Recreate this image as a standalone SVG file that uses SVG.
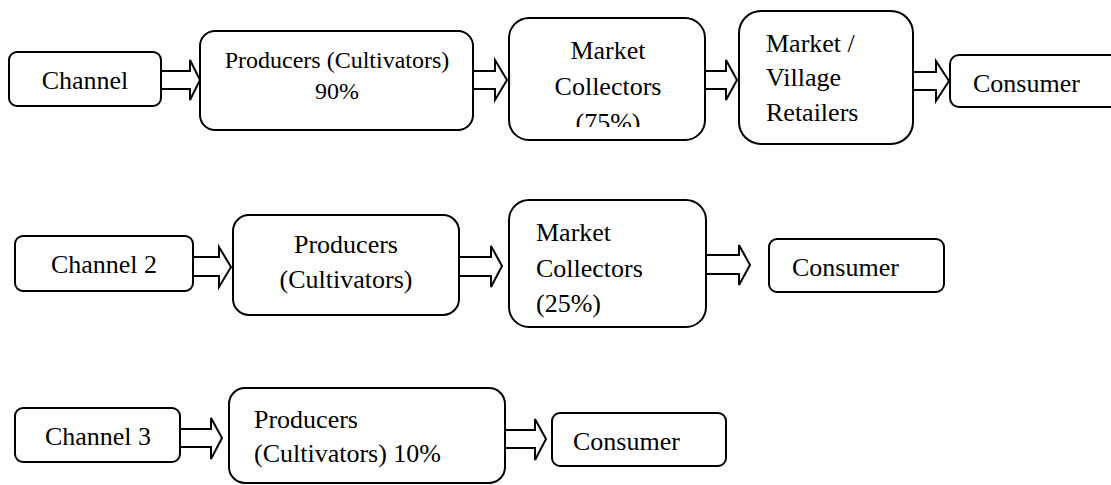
<svg xmlns="http://www.w3.org/2000/svg" width="1111" height="485" viewBox="0 0 1111 485">
<style>
.box{fill:#fff;stroke:#000;stroke-width:2}
.arr{fill:#fff;stroke:#000;stroke-width:2;stroke-linejoin:miter}
.t{font-family:'Liberation Serif','DejaVu Serif',serif;font-size:26px;fill:#000}
.c{text-anchor:middle}
.s{font-size:24px}
</style>
<defs>
<clipPath id="clip75"><rect x="509" y="0" width="196" height="127"/></clipPath>
</defs>
<rect width="1111" height="485" fill="#fff"/>
<g id="connectors">
<polygon class="arr" points="161,71 190,71 190,60 200,80 190,100 190,89 161,89"/>
<polygon class="arr" points="473,71 495,71 495,60 507,80 495,100 495,89 473,89"/>
<polygon class="arr" points="705,71 726,71 726,60 737,80 726,100 726,89 705,89"/>
<polygon class="arr" points="913,72 936,72 936,61 949,81 936,101 936,90 913,90"/>
<polygon class="arr" points="193,257 219,257 219,247 231,267 219,287 219,276 193,276"/>
<polygon class="arr" points="459,257 491,257 491,246 502,266 491,287 491,276 459,276"/>
<polygon class="arr" points="706,255 739,255 739,245 750,265 739,285 739,274 706,274"/>
<polygon class="arr" points="180,429 211,429 211,418 222,438 211,459 211,447 180,447"/>
<polygon class="arr" points="505,430 535,430 535,419 546,439 535,460 535,448 505,448"/>
</g>
<g id="r1-channel"><rect class="box" x="9" y="52" width="152" height="54" rx="8"/><text class="t c" font-family="Liberation Serif" x="85" y="89">Channel</text></g>
<g id="r1-producers"><rect class="box" x="200" y="31" width="273" height="99" rx="15"/><text class="t c s" x="337" y="68">Producers (Cultivators)</text><text class="t c s" x="337" y="99">90%</text></g>
<g id="r1-collectors"><rect class="box" x="509" y="18" width="196" height="122" rx="20"/><text class="t c" x="608" y="59">Market</text><text class="t c" x="608" y="95">Collectors</text><text class="t c" x="608" y="131" clip-path="url(#clip75)">(75%)</text></g>
<g id="r1-retailers"><rect class="box" x="739" y="11" width="174" height="133" rx="22"/><text class="t" x="766" y="52">Market /</text><text class="t" x="766" y="86">Village</text><text class="t" x="766" y="121">Retailers</text></g>
<g id="r1-consumer"><rect class="box" x="950" y="55" width="170" height="52" rx="9"/><text class="t" x="973" y="92">Consumer</text></g>
<g id="r2-channel"><rect class="box" x="15" y="236" width="178" height="55" rx="8"/><text class="t c" x="104" y="273">Channel 2</text></g>
<g id="r2-producers"><rect class="box" x="233" y="215" width="226" height="100" rx="16"/><text class="t c" x="346" y="253">Producers</text><text class="t c" x="346" y="288">(Cultivators)</text></g>
<g id="r2-collectors"><rect class="box" x="509" y="200" width="197" height="127" rx="20"/><text class="t" x="536" y="241">Market</text><text class="t" x="536" y="277">Collectors</text><text class="t" x="536" y="312">(25%)</text></g>
<g id="r2-consumer"><rect class="box" x="769" y="239" width="175" height="53" rx="8"/><text class="t" x="792" y="276">Consumer</text></g>
<g id="r3-channel"><rect class="box" x="15" y="408" width="165" height="54" rx="8"/><text class="t c" x="98" y="445">Channel 3</text></g>
<g id="r3-producers"><rect class="box" x="229" y="388" width="276" height="95" rx="16"/><text class="t" x="254" y="428">Producers</text><text class="t" x="254" y="462">(Cultivators) 10%</text></g>
<g id="r3-consumer"><rect class="box" x="552" y="413" width="174" height="53" rx="8"/><text class="t" x="573" y="450">Consumer</text></g>
</svg>
